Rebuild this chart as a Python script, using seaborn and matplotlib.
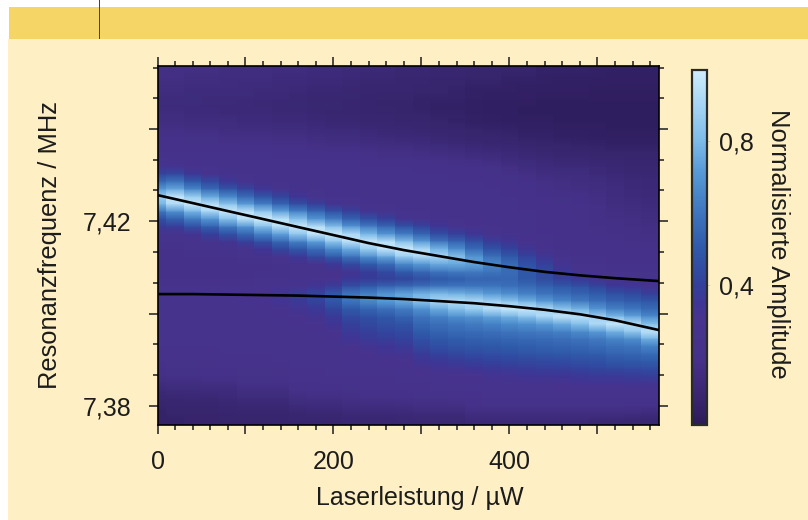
import numpy as np
import pandas as pd
import matplotlib
matplotlib.use("Agg")
import matplotlib.pyplot as plt
from matplotlib.colors import LinearSegmentedColormap
from matplotlib.patches import Rectangle
import seaborn as sns

# laser power of each measured column (uW), centred on the block
power_cols = [20 * i for i in range(29)]

# normalised amplitude in percent, one list per power column, top row first
amp_pct = [
    [18,17,16,15,14,14,15,16,18,20,22,24, 27,33,42,56,72,88,78,60,46,37,30,27, 24,23,20,22,24,26,27,27,26,26,25,25, 25,25,24,22,20,18,15,12,10,8,7,7],
    [18,17,16,15,14,14,15,16,18,20,22,24, 26,32,44,60,76,98,92,68,53,38,29,26, 24,23,21,22,24,26,28,27,26,26,25,25, 25,25,24,23,21,19,16,13,10,9,8,7],
    [17,16,15,14,14,14,14,15,17,19,21,24, 25,28,36,51,66,88,99,79,62,46,33,27, 25,23,21,22,24,26,28,27,26,26,26,25, 25,25,24,23,21,19,16,13,11,9,8,8],
    [17,16,15,14,13,13,14,15,17,19,21,24, 25,27,31,44,57,76,97,92,70,53,40,29, 26,23,21,22,24,26,28,27,26,26,26,25, 25,25,24,23,22,20,17,14,11,9,8,8],
    [16,15,15,14,13,13,13,15,16,18,21,23, 25,26,27,36,49,66,85,99,82,62,47,33, 27,24,21,22,24,26,29,27,26,26,26,25, 25,25,25,24,22,20,17,14,12,10,9,8],
    [16,15,14,14,13,12,13,14,16,18,20,23, 25,26,26,31,42,57,73,97,95,70,55,40, 30,26,22,22,24,26,30,29,27,26,26,25, 25,25,25,24,23,21,19,16,13,11,9,8],
    [16,15,14,13,12,12,13,14,16,18,20,23, 25,26,26,27,35,49,64,85,100,82,64,47, 35,27,23,23,25,28,31,31,28,27,26,26, 25,25,25,24,23,21,19,16,13,11,9,8],
    [15,14,13,13,12,11,12,13,15,17,19,22, 24,25,26,26,30,42,55,73,95,95,73,55, 42,31,25,24,25,29,34,33,30,28,27,26, 25,25,25,25,23,22,19,16,13,11,9,9],
    [15,14,13,12,11,11,12,13,15,17,19,22, 24,25,26,26,27,35,47,64,82,100,85,64, 49,36,27,25,27,31,38,37,33,30,28,27, 26,26,26,25,25,24,22,19,16,13,10,9],
    [14,13,12,11,10,10,11,12,14,16,18,21, 23,25,26,26,26,30,40,55,70,95,97,73, 57,44,31,26,29,34,42,41,36,33,30,28, 27,26,26,25,25,24,22,20,17,14,11,9],
    [14,13,12,11,10,10,10,11,13,15,17,20, 23,25,26,26,27,27,33,47,62,82,99,85, 66,51,36,28,31,38,50,50,42,37,34,31, 29,27,26,26,26,25,23,20,17,14,11,9],
    [13,12,11,10,10,9,10,11,13,15,17,20, 23,25,26,26,26,27,29,40,53,70,92,97, 76,60,44,32,36,46,60,60,50,44,40,37, 34,31,29,28,27,26,24,21,18,15,12,10],
    [12,11,10,9,9,9,9,10,12,14,16,19, 22,24,25,26,26,26,27,33,46,62,79,99, 88,68,51,38,38,50,64,66,54,47,43,40, 37,33,31,29,27,26,24,22,19,15,12,10],
    [12,11,10,9,8,8,9,10,11,13,15,18, 21,23,25,26,26,26,26,30,40,55,70,95, 97,76,57,44,40,54,70,72,58,50,46,42, 39,35,32,30,28,26,24,22,19,15,12,10],
    [11,10,9,9,8,8,8,9,11,12,15,18, 21,23,25,26,26,26,26,27,33,47,62,82, 99,88,66,51,42,56,74,76,62,54,48,44, 41,37,33,30,28,27,25,23,20,16,12,11],
    [11,10,9,8,7,7,8,9,10,12,14,17, 20,22,24,25,26,26,26,26,30,41,54,71, 92,94,71,56,46,58,78,84,68,60,55,51, 47,43,38,34,30,28,26,24,21,17,13,11],
    [10,9,8,8,7,6,7,8,9,11,13,16, 19,22,24,25,26,26,26,26,27,35,45,60, 78,92,76,60,50,60,80,92,76,64,58,54, 50,46,41,36,32,29,27,25,21,17,13,11],
    [10,9,8,7,7,6,7,7,9,10,12,15, 18,21,23,24,25,26,26,26,26,30,40,54, 67,83,76,62,52,60,78,95,82,68,60,56, 52,48,43,38,33,30,28,26,22,17,13,11],
    [9,8,7,6,6,5,6,6,8,9,11,14, 17,20,22,24,25,25,26,26,26,28,35,46, 56,70,74,62,54,60,76,94,88,70,62,57, 53,49,45,40,35,31,29,27,24,20,16,12],
    [9,8,7,6,5,5,5,6,7,9,10,13, 16,19,21,23,24,25,25,26,26,27,30,38, 47,58,65,60,54,60,72,90,94,74,64,58, 54,50,46,41,36,32,29,27,25,21,16,12],
    [8,7,6,6,5,5,5,5,7,8,10,12, 14,17,19,21,22,24,25,25,26,26,27,34, 41,50,56,57,55,58,68,85,98,78,66,60, 55,51,47,42,37,33,30,27,25,21,16,12],
    [8,7,6,5,5,4,4,5,6,7,9,11, 13,15,18,20,21,22,23,24,25,25,26,28, 34,41,47,50,50,56,64,78,98,84,68,61, 56,52,48,43,38,34,30,27,25,21,16,12],
    [7,6,6,5,4,4,4,5,6,7,8,10, 12,14,16,18,19,20,22,23,23,24,24,25, 28,34,40,44,45,53,60,72,92,92,72,62, 57,53,49,44,39,34,30,27,25,21,16,12],
    [7,6,5,5,4,4,4,4,5,6,8,9, 11,13,15,17,18,19,21,22,22,23,23,23, 24,27,32,36,40,50,57,66,84,98,76,64, 58,54,50,45,40,35,31,28,25,21,16,12],
    [7,6,5,5,4,4,4,4,5,6,7,9, 11,13,15,16,17,19,20,21,21,22,22,23, 23,23,26,30,36,47,54,62,78,96,82,67, 60,55,51,46,41,36,32,28,25,21,16,12],
    [6,6,5,4,4,4,4,4,5,5,7,8, 10,12,13,15,16,17,18,19,20,20,21,22, 23,23,25,28,32,42,51,58,70,90,92,72, 62,57,52,47,42,37,32,28,25,21,16,11],
    [6,5,5,4,4,4,4,4,4,5,6,8, 10,11,12,14,15,15,16,17,18,19,20,21, 22,23,24,26,28,36,47,54,63,80,98,78, 65,59,54,49,43,37,32,28,25,21,16,11],
    [6,5,5,4,4,4,4,4,4,5,6,8, 9,10,11,13,13,14,15,16,17,18,19,20, 21,23,24,25,28,34,44,52,60,74,94,86, 68,60,55,50,44,38,33,28,25,20,15,10],
    [6,5,5,4,4,4,4,4,4,5,6,8, 9,10,11,12,12,13,14,15,16,17,18,19, 21,23,24,25,27,31,40,50,56,66,82,97, 78,64,57,51,45,39,33,28,25,20,14,10],
]

# fitted resonance curves
fit_power = [0, 40, 80, 120, 160, 200, 240, 280, 320, 360, 400, 440, 480, 520, 570]
fit_upper = [7.42570, 7.42397, 7.42223, 7.42050, 7.41876, 7.41703, 7.41529, 7.41377,
             7.41247, 7.41117, 7.41005, 7.40905, 7.40830, 7.40768, 7.40705]
fit_lower = [7.40423, 7.40423, 7.40412, 7.40401, 7.40390, 7.40369, 7.40347, 7.40315,
             7.40271, 7.40225, 7.40160, 7.40082, 7.39985, 7.39855, 7.39642]

FREQ_TOP = 7.4537
FREQ_BOTTOM = 7.3759
MAX_POWER = 570
CREAM = "#FEF0C4"
BAND = "#F5D565"
TEXT = "#1c1c1c"

cmap_stops = [(0.0, "#2C1B58"), (0.08, "#382670"), (0.18, "#453188"), (0.30, "#47348F"),
              (0.34, "#3F3595"), (0.40, "#33429C"), (0.50, "#2F5AAA"), (0.60, "#3F76BE"),
              (0.66, "#4A8ACB"), (0.72, "#5A9CD8"), (0.80, "#7DBBE8"), (0.90, "#A5D4F4"),
              (1.0, "#CFECFC")]


def power_to_cell(power):
    return np.asarray(power) / 20 + 0.5


def freq_to_cell(freq, n_rows):
    return (FREQ_TOP - np.asarray(freq)) / (FREQ_TOP - FREQ_BOTTOM) * n_rows


def px_axes(fig, left, top, right, bottom):
    w, h = fig.get_size_inches() * fig.dpi
    return fig.add_axes([left / w, 1 - bottom / h, (right - left) / w, (bottom - top) / h])


def soften_rows(image, dpi, size=9):
    # the scan is smooth along frequency, so only blur the rendered rows vertically
    pad = size // 2
    padded = np.pad(image, ((pad, pad), (0, 0), (0, 0)), mode="edge")
    smooth = np.cumsum(padded, axis=0)
    smooth = np.vstack([smooth[size - 1:size], smooth[size:] - smooth[:-size]]) / size
    return smooth, 0, 0


def draw_page(fig):
    fig.patch.set_facecolor("white")
    w, h = fig.get_size_inches() * fig.dpi
    fig.patches.append(Rectangle((8 / w, 0), 1, 1 - 39 / h, transform=fig.transFigure,
                                 facecolor=CREAM, edgecolor="none", zorder=-3))
    fig.patches.append(Rectangle((9 / w, 1 - 39 / h), 1, 32 / h, transform=fig.transFigure,
                                 facecolor=BAND, edgecolor="none", zorder=-2))
    fig.patches.append(Rectangle((98.5 / w, 1 - 39 / h), 1.5 / w, 39 / h, transform=fig.transFigure,
                                 facecolor="#8A1F3F", edgecolor="none", zorder=-1))


def main():
    sns.set_theme(style="ticks")
    plt.rcParams["font.family"] = ["Liberation Sans", "DejaVu Sans"]

    values = np.array(amp_pct).T / 100
    n_rows = values.shape[0]
    df = pd.DataFrame(values, columns=power_cols)

    fig = plt.figure(figsize=(8.08, 5.2), dpi=100)
    draw_page(fig)
    ax = px_axes(fig, 157.5, 66, 659, 424.7)
    cax = px_axes(fig, 692, 69.5, 706.5, 425)

    cmap = LinearSegmentedColormap.from_list("resonance", cmap_stops)
    sns.heatmap(df, ax=ax, cbar_ax=cax, cmap=cmap, vmin=0.01, vmax=1.0,
                xticklabels=False, yticklabels=False)
    ax.collections[0].set_agg_filter(soften_rows)

    sns.lineplot(x=power_to_cell(fit_power), y=freq_to_cell(fit_upper, n_rows), ax=ax,
                 color="black", linewidth=1.9, estimator=None, sort=False, legend=False)
    sns.lineplot(x=power_to_cell(fit_power), y=freq_to_cell(fit_lower, n_rows), ax=ax,
                 color="black", linewidth=1.9, estimator=None, sort=False, legend=False)

    ax.set_xlim(power_to_cell(0), power_to_cell(MAX_POWER))
    ax.set_ylim(n_rows, 0)
    for spine in ax.spines.values():
        spine.set_visible(True)
        spine.set_color("black")
        spine.set_linewidth(1.2)

    ax.set_xticks(power_to_cell([0, 100, 200, 300, 400, 500]))
    ax.set_xticklabels(["0", "", "200", "", "400", ""])
    ax.set_xticks(power_to_cell([p for p in range(20, 570, 20) if p % 100 != 0]), minor=True)
    ax.set_yticks(freq_to_cell([7.38, 7.40, 7.42, 7.44], n_rows))
    ax.set_yticklabels(["7,38", "", "7,42", ""])
    minor_freq = [7.3867, 7.3933, 7.4067, 7.4133, 7.4267, 7.4333, 7.4467, 7.4533]
    ax.set_yticks(freq_to_cell(minor_freq, n_rows), minor=True)

    ax.tick_params(which="major", direction="out", length=6.5, width=1.1, top=True, right=True,
                   bottom=True, left=True, labelsize=18, colors=TEXT, pad=12)
    ax.tick_params(which="minor", direction="out", length=3.5, width=1.1, top=True, right=True,
                   bottom=True, left=True, color=TEXT)
    ax.tick_params(axis="y", which="major", labelrotation=0)
    ax.set_xlabel("Laserleistung / µW", fontsize=18, color=TEXT, labelpad=8, visible=True, x=0.523)
    ax.set_ylabel("Resonanzfrequenz / MHz", fontsize=18.4, color=TEXT, labelpad=15, visible=True)

    cbar = ax.collections[0].colorbar
    cbar.outline.set_linewidth(1.6)
    cbar.outline.set_edgecolor("#2a2a2a")
    cbar.set_ticks([0.4, 0.8], labels=["0,4", "0,8"])
    cbar.ax.tick_params(length=2, width=0.6, color="#d8d2b0", labelsize=18, labelcolor=TEXT, pad=7)
    cbar.ax.minorticks_off()
    cbar.set_label("Normalisierte Amplitude", fontsize=18.4, color=TEXT, rotation=270, labelpad=26, y=0.509)

    fig.savefig("out.png", dpi=100, facecolor=fig.get_facecolor())


if __name__ == "__main__":
    main()
